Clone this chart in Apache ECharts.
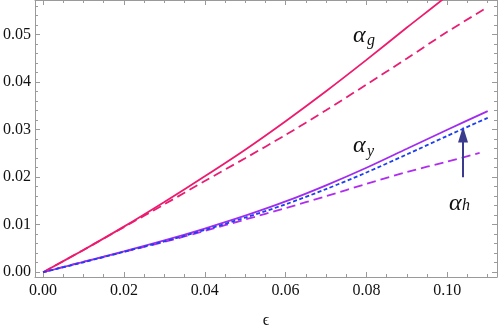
<!DOCTYPE html>
<html>
<head>
<meta charset="utf-8">
<script src="https://cdn.jsdelivr.net/npm/echarts@6/dist/echarts.min.js"></script>
<style>
html,body{margin:0;padding:0;background:#fff;}
#chart{width:498px;height:334px;}
</style>
</head>
<body>
<div id="chart"></div>
<script>
// values
var eps      = [0, 0.01, 0.02, 0.03, 0.04, 0.05, 0.06, 0.07, 0.08, 0.09, 0.10, 0.11];
var alphaG   = [0, 0.0047, 0.0096, 0.0148, 0.0202, 0.0258, 0.0318, 0.0381, 0.0447, 0.0515, 0.0582, 0.0655];
var alphaG2  = [0, 0.0047, 0.0095, 0.0143, 0.0192, 0.0240, 0.0289, 0.0341, 0.0395, 0.0450, 0.0506, 0.0558];
var alphaY   = [0, 0.0022, 0.0044, 0.0067, 0.0092, 0.0119, 0.0149, 0.0183, 0.0220, 0.0260, 0.0300, 0.0339];
var alphaH   = [0, 0.0021, 0.0043, 0.0065, 0.0089, 0.0115, 0.0143, 0.0175, 0.0210, 0.0248, 0.0287, 0.0325];
var epsShort = [0, 0.01, 0.02, 0.03, 0.04, 0.05, 0.06, 0.07, 0.08, 0.09, 0.10, 0.108];
var alphaY2  = [0, 0.0022, 0.0043, 0.0064, 0.0087, 0.0111, 0.0135, 0.0160, 0.0186, 0.0211, 0.0233, 0.0251];

var arrowEps = 0.1039;
var arrowFrom = 0.0200;
var arrowTo = 0.0290;

var xMajor = [0, 0.02, 0.04, 0.06, 0.08, 0.10];
var xMinor = [0.005, 0.01, 0.015, 0.025, 0.03, 0.035, 0.045, 0.05, 0.055, 0.065, 0.07, 0.075, 0.085, 0.09, 0.095, 0.105, 0.11];
var yMajor = [0, 0.01, 0.02, 0.03, 0.04, 0.05];
var yMinor = [0.002, 0.004, 0.006, 0.008, 0.012, 0.014, 0.016, 0.018, 0.022, 0.024, 0.026, 0.028,
              0.032, 0.034, 0.036, 0.038, 0.042, 0.044, 0.046, 0.048, 0.052, 0.054, 0.056];

var xMin = -0.002, xMax = 0.1123;
var yMin = -0.001, yMax = 0.0573;

function pairs(xs, ys) {
	var out = [];
	for (var i = 0; i < xs.length; i++) out.push([xs[i], ys[i]]);
	return out;
}

var frame = '#9a9a9a';
var serif = 'Liberation Serif';

function makeX(pos, ticks, len, labels, line) {
	return {
		type: 'value', position: pos, min: xMin, max: xMax,
		splitLine: {show: false},
		axisLine: {show: line, onZero: false, lineStyle: {color: frame, width: 1}},
		axisTick: {show: true, inside: true, length: len, customValues: ticks, lineStyle: {color: frame}},
		axisLabel: labels ? {
			show: true, customValues: ticks, margin: 6, color: '#111',
			fontFamily: serif, fontSize: 16,
			formatter: function (v) { return v.toFixed(2); }
		} : {show: false},
		name: labels ? 'ϵ' : '',
		nameLocation: 'middle', nameGap: 36,
		nameTextStyle: {fontFamily: serif, fontSize: 16, color: '#111'}
	};
}

function makeY(pos, ticks, len, labels, line) {
	return {
		type: 'value', position: pos, min: yMin, max: yMax,
		splitLine: {show: false},
		axisLine: {show: line, onZero: false, lineStyle: {color: frame, width: 1}},
		axisTick: {show: true, inside: true, length: len, customValues: ticks, lineStyle: {color: frame}},
		axisLabel: labels ? {
			show: true, customValues: ticks, margin: 4, color: '#111',
			fontFamily: serif, fontSize: 16,
			formatter: function (v) { return v.toFixed(2); }
		} : {show: false}
	};
}

function curve(data, color, type, z) {
	return {
		type: 'line', data: data, xAxisIndex: 0, yAxisIndex: 0,
		showSymbol: false, smooth: 0.3, z: z,
		lineStyle: {color: color, width: 1.8, type: type},
		animation: false
	};
}

function label(x, y, text, size) {
	return {
		type: 'text', x: x, y: y,
		style: {text: text, fontFamily: serif, fontStyle: 'italic', fontSize: size, fill: '#111', verticalAlign: 'middle'}
	};
}

var myChart = echarts.init(document.getElementById('chart'));
var option = {
	animation: false,
	grid: {left: 34, right: 1, top: 0, bottom: 48, containLabel: false},
	xAxis: [
		makeX('bottom', xMajor, 5, true, true),
		makeX('bottom', xMinor, 3, false, false),
		makeX('top', xMajor, 5, false, true),
		makeX('top', xMinor, 3, false, false)
	],
	yAxis: [
		makeY('left', yMajor, 5, true, true),
		makeY('left', yMinor, 3, false, false),
		makeY('right', yMajor, 5, false, true),
		makeY('right', yMinor, 3, false, false)
	],
	series: [
		curve(pairs(eps, alphaG), '#ee1a6e', 'solid', 5),
		curve(pairs(eps, alphaG2), '#e81e74', [9, 5], 4),
		curve(pairs(epsShort, alphaY2), '#b02cf0', [9, 5], 3),
		curve(pairs(eps, alphaY), '#a02cf0', 'solid', 4),
		{
			type: 'line', data: pairs(eps, alphaH), xAxisIndex: 0, yAxisIndex: 0,
			showSymbol: false, smooth: 0.3, z: 6, animation: false,
			lineStyle: {color: '#1e3ff0', width: 1.8, type: [4, 2.5]},
			markLine: {
				silent: true, symbol: ['none', 'triangle'], symbolSize: [10, 16],
				label: {show: false},
				lineStyle: {color: '#3b3b8e', width: 2, type: 'solid'},
				data: [[{coord: [arrowEps, arrowFrom]}, {coord: [arrowEps, arrowTo]}]]
			}
		}
	],
	graphic: [
		label(353, 36, 'α', 24),
		label(367, 41, 'g', 16),
		label(353, 146, 'α', 24),
		label(367, 152, 'y', 16),
		label(449, 204, 'α', 24),
		label(462, 206, 'h', 16)
	]
};
myChart.setOption(option);
</script>
</body>
</html>
